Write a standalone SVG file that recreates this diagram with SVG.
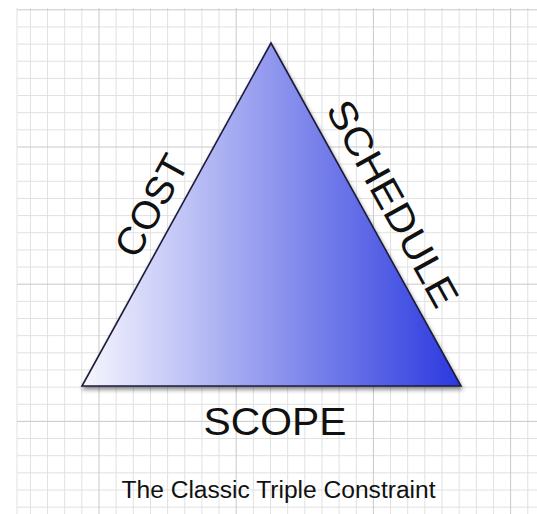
<svg xmlns="http://www.w3.org/2000/svg" width="537" height="514" viewBox="0 0 537 514">
<style>
.minor{stroke:#e1e1e1;stroke-width:1;fill:none}
.major{stroke:#c9c9c9;stroke-width:1;fill:none}
.lbl{font-family:"Liberation Sans",Arial,Helvetica,sans-serif;fill:#111;text-anchor:middle}
</style>
<defs>
<linearGradient id="tg" x1="82" y1="0" x2="461" y2="0" gradientUnits="userSpaceOnUse">
<stop offset="0" stop-color="#f7f7fe"/>
<stop offset="1" stop-color="#2a38de"/>
</linearGradient>
<filter id="sh" x="-10%" y="-10%" width="120%" height="125%">
<feDropShadow dx="1" dy="3" stdDeviation="2" flood-color="#000" flood-opacity="0.45"/>
</filter>
</defs>
<rect width="537" height="514" fill="#fff"/>
<g id="grid">
<path class="minor" d="M17 8V514M30.4 8V514M47.55 8V514M64.7 8V514M81.85 8V514M116.15 8V514M133.3 8V514M150.45 8V514M167.6 8V514M184.75 8V514M201.9 8V514M219.05 8V514M253.35 8V514M270.5 8V514M287.65 8V514M304.8 8V514M321.95 8V514M339.1 8V514M356.25 8V514M390.55 8V514M407.7 8V514M424.85 8V514M442 8V514M459.15 8V514M476.3 8V514M493.45 8V514M527.75 8V514
M17 26.95H537M17 44.1H537M17 61.25H537M17 78.4H537M17 95.55H537M17 112.7H537M17 129.85H537M17 164.15H537M17 181.3H537M17 198.45H537M17 215.6H537M17 232.75H537M17 249.9H537M17 267.05H537M17 301.35H537M17 318.5H537M17 335.65H537M17 352.8H537M17 369.95H537M17 387.1H537M17 404.25H537M17 438.55H537M17 455.7H537M17 472.85H537M17 490H537M17 507.15H537"/>
<path class="major" d="M99 8V514M236.2 8V514M373.4 8V514M510.6 8V514M17 9.8H537M17 147H537M17 284.2H537M17 421.4H537"/>
</g>
<g id="triangle">
<polygon points="271,43 461,386 82,386" fill="url(#tg)" stroke="#1c1c3c" stroke-width="1.6" stroke-linejoin="miter" filter="url(#sh)"/>
</g>
<g id="cost">
<text class="lbl" font-size="39" transform="translate(163,212) rotate(-61.1)" textLength="110" lengthAdjust="spacingAndGlyphs">COST</text>
</g>
<g id="schedule">
<text class="lbl" font-size="39" transform="translate(381,210) rotate(61)" textLength="230" lengthAdjust="spacingAndGlyphs">SCHEDULE</text>
</g>
<g id="scope">
<text class="lbl" font-size="39" x="275" y="435" textLength="143" lengthAdjust="spacingAndGlyphs">SCOPE</text>
</g>
<g id="caption">
<text class="lbl" font-size="23" x="278.5" y="498" fill="#222" textLength="314" lengthAdjust="spacingAndGlyphs">The Classic Triple Constraint</text>
</g>
</svg>
